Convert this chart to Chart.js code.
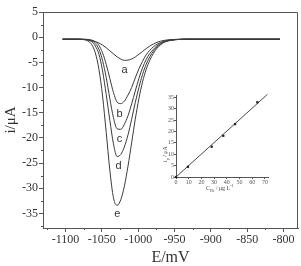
<!DOCTYPE html>
<html lang="en">
<head>
<meta charset="UTF-8">
<title>Stripping voltammograms</title>
<script src="https://cdn.jsdelivr.net/npm/chart.js"></script>
<style>
  body { margin: 0; background: #fff; }
  #wrap { position: relative; width: 301px; height: 266px; }
  #main { position: absolute; left: 0; top: 0; }
  #inset { position: absolute; left: 150px; top: 85px; }
</style>
</head>
<body>
<div id="wrap">
  <canvas id="main" width="301" height="266"></canvas>
  <canvas id="inset" width="125" height="110"></canvas>
</div>
<script>
// potential axis (mV) shared by all five scans
const potential = [-1104, -1084, -1074, -1069, -1064, -1059, -1054, -1049, -1044, -1039, -1034, -1029, -1024, -1019, -1014, -1009, -1004, -999, -994, -989, -984, -979, -974, -969, -964, -954, -944, -934, -900, -850, -805];
const curveA = [-0.4, -0.42, -0.47, -0.54, -0.66, -0.86, -1.16, -1.57, -2.1, -2.7, -3.33, -3.9, -4.35, -4.6, -4.56, -4.33, -3.93, -3.4, -2.83, -2.27, -1.76, -1.35, -1.02, -0.79, -0.63, -0.47, -0.42, -0.4, -0.4, -0.4, -0.4];
const curveB = [-0.4, -0.4, -0.42, -0.45, -0.58, -0.92, -1.63, -3.1, -5.4, -8.2, -11.0, -12.9, -13.2, -12.7, -11.5, -10.0, -8.1, -6.3, -4.8, -3.5, -2.6, -1.9, -1.4, -1.05, -0.79, -0.53, -0.44, -0.4, -0.4, -0.4, -0.4];
const curveC = [-0.4, -0.4, -0.43, -0.49, -0.73, -1.27, -2.4, -4.65, -8.0, -12.2, -16.0, -18.2, -18.3, -17.3, -15.6, -13.25, -10.7, -8.2, -6.1, -4.45, -3.25, -2.4, -1.7, -1.23, -0.89, -0.56, -0.45, -0.4, -0.4, -0.4, -0.4];
const curveD = [-0.4, -0.4, -0.45, -0.54, -0.91, -1.76, -3.4, -6.7, -11.4, -16.5, -21.2, -23.7, -23.3, -21.8, -19.4, -16.3, -13.0, -10.0, -7.4, -5.4, -3.9, -2.76, -1.97, -1.38, -0.96, -0.59, -0.45, -0.4, -0.4, -0.4, -0.4];
const curveE = [-0.4, -0.4, -0.51, -0.77, -1.48, -3.1, -6.4, -11.7, -18.9, -26.4, -31.9, -33.4, -32.3, -29.6, -25.6, -21.0, -16.3, -12.2, -8.9, -6.4, -4.6, -3.2, -2.2, -1.5, -1.0, -0.6, -0.45, -0.4, -0.4, -0.4, -0.4];

const curveNames = ['a', 'b', 'c', 'd', 'e'];
const nameE = [-1018.7, -1025.6, -1025.6, -1027, -1028.8];
const nameI = [-6.6, -15.3, -20.3, -25.6, -35.1];

const xTicks = [-1100, -1050, -1000, -950, -900, -850, -800];
const yTicks = [5, 0, -5, -10, -15, -20, -25, -30, -35];
const xMinor = [-1125, -1075, -1025, -975, -925, -875, -825];
const yMinor = [2.5, -2.5, -7.5, -12.5, -17.5, -22.5, -27.5, -32.5, -37.5];

// inset: calibration
const concPb = [0, 9.4, 28.1, 37.2, 46.5, 64.0];
const peakCurrent = [0, 4.5, 13.3, 18.1, 23.2, 32.8];
const fitConc = [0, 72];
const fitCurrent = [0, 36.3];
const insetXTicks = [0, 10, 20, 30, 40, 50, 60, 70];
const insetYTicks = [0, 5, 10, 15, 20, 25, 30, 35];

const serif = 'Liberation Serif';
const lineCol = '#3a3a3a';
const axisCol = '#555';

function pts(xs, ys) { return xs.map((x, i) => ({ x: x, y: ys[i] })); }

const curves = [curveA, curveB, curveC, curveD, curveE].map(c => ({
  data: pts(potential, c),
  borderColor: lineCol,
  borderWidth: 1,
  pointRadius: 0,
  cubicInterpolationMode: 'monotone',
  fill: false
}));

const mainExtras = {
  id: 'mainExtras',
  afterDraw(chart) {
    const { ctx, chartArea: a, scales: { x, y } } = chart;
    ctx.save();
    ctx.strokeStyle = axisCol;
    ctx.lineWidth = 1;
    ctx.beginPath();
    ctx.moveTo(a.left, a.top + 0.5);
    ctx.lineTo(a.right - 0.5, a.top + 0.5);
    ctx.lineTo(a.right - 0.5, a.bottom);
    ctx.stroke();
    ctx.beginPath();
    yMinor.forEach(v => {
      if (v < y.min || v > y.max) return;
      const py = Math.round(y.getPixelForValue(v)) + 0.5;
      ctx.moveTo(a.left - 2, py); ctx.lineTo(a.left, py);
    });
    xMinor.forEach(v => {
      if (v < x.min || v > x.max) return;
      const px = Math.round(x.getPixelForValue(v)) + 0.5;
      ctx.moveTo(px, a.bottom); ctx.lineTo(px, a.bottom + 2);
    });
    ctx.stroke();
    ctx.fillStyle = '#333';
    ctx.font = '11px "Liberation Sans"';
    ctx.textAlign = 'center';
    ctx.textBaseline = 'middle';
    curveNames.forEach((n, i) => {
      ctx.fillText(n, x.getPixelForValue(nameE[i]), y.getPixelForValue(nameI[i]));
    });
    ctx.restore();
  }
};

new Chart(document.getElementById('main'), {
  type: 'line',
  data: { datasets: curves },
  options: {
    responsive: false,
    animation: false,
    devicePixelRatio: 1,
    layout: { padding: { top: 12, right: 3, left: 0, bottom: 0 } },
    plugins: { legend: { display: false }, tooltip: { enabled: false } },
    scales: {
      x: {
        type: 'linear', min: -1131, max: -780,
        afterBuildTicks: s => { s.ticks = xTicks.map(v => ({ value: v })); },
        afterFit: s => { s.height = 38; },
        ticks: { callback: v => String(v), font: { family: serif, size: 12 }, color: '#333', padding: 1, maxRotation: 0, autoSkip: false },
        grid: { drawOnChartArea: false, tickLength: 4, color: axisCol },
        border: { color: axisCol },
        title: { display: true, text: 'E/mV', color: '#333', font: { family: serif, size: 16, lineHeight: 1 }, padding: { top: 0, bottom: 0 } }
      },
      y: {
        type: 'linear', min: -37.9, max: 5,
        afterBuildTicks: s => { s.ticks = yTicks.map(v => ({ value: v })); },
        afterFit: s => { s.width = 43; },
        ticks: { callback: v => String(v), font: { family: serif, size: 12 }, color: '#333', padding: 1, autoSkip: false },
        grid: { drawOnChartArea: false, tickLength: 4, color: axisCol },
        border: { color: axisCol },
        title: { display: true, text: 'i/μA', color: '#333', font: { family: serif, size: 15, lineHeight: 1 }, padding: { top: 4, bottom: 0 } }
      }
    }
  },
  plugins: [mainExtras]
});

const insetTitles = {
  id: 'insetTitles',
  afterDraw(chart) {
    const ctx = chart.ctx;
    ctx.save();
    ctx.fillStyle = '#444';
    ctx.textBaseline = 'alphabetic';
    // x title: C_Pb / μg L^-1
    let x0 = 56, y0 = 105;
    ctx.font = '6px "' + serif + '"';
    ctx.fillText('C', x0, y0); x0 += ctx.measureText('C').width;
    ctx.font = '4px "' + serif + '"';
    ctx.fillText('Pb', x0, y0 + 1.5); x0 += ctx.measureText('Pb').width;
    ctx.font = '6px "' + serif + '"';
    ctx.fillText(' / μg L', x0, y0); x0 += ctx.measureText(' / μg L').width;
    ctx.font = '4px "' + serif + '"';
    ctx.fillText('-1', x0, y0 - 3);
    // y title: i_p / μA (rotated)
    ctx.translate(17, 64);
    ctx.rotate(-Math.PI / 2);
    let t = -13;
    ctx.font = '6px "' + serif + '"';
    ctx.fillText('i', t, 0); t += ctx.measureText('i').width;
    ctx.font = '4px "' + serif + '"';
    ctx.fillText('p', t, 1.5); t += ctx.measureText('p').width;
    ctx.font = '6px "' + serif + '"';
    ctx.fillText(' / μA', t, 0);
    ctx.restore();
  }
};

new Chart(document.getElementById('inset'), {
  type: 'scatter',
  data: {
    datasets: [
      { data: pts(concPb, peakCurrent), pointStyle: 'rect', pointRadius: 1.6, backgroundColor: '#222', borderColor: '#222', borderWidth: 0, showLine: false, clip: false },
      { data: pts(fitConc, fitCurrent), showLine: true, borderColor: '#333', borderWidth: 0.9, pointRadius: 0, clip: false }
    ]
  },
  options: {
    responsive: false,
    animation: false,
    devicePixelRatio: 1,
    layout: { padding: { top: 10, right: 7, left: 0, bottom: 0 } },
    plugins: { legend: { display: false }, tooltip: { enabled: false } },
    scales: {
      x: {
        type: 'linear', min: 0, max: 72.4,
        afterBuildTicks: s => { s.ticks = insetXTicks.map(v => ({ value: v })); },
        afterFit: s => { s.height = 18; },
        ticks: { callback: v => String(v), font: { family: serif, size: 6 }, color: '#555', padding: 0, maxRotation: 0, autoSkip: false },
        grid: { drawOnChartArea: false, tickLength: 2, color: '#555' },
        border: { color: '#555' }
      },
      y: {
        type: 'linear', min: 0, max: 36,
        afterBuildTicks: s => { s.ticks = insetYTicks.map(v => ({ value: v })); },
        afterFit: s => { s.width = 26; },
        ticks: { callback: v => String(v), font: { family: serif, size: 6 }, color: '#555', padding: 0, autoSkip: false },
        grid: { drawOnChartArea: false, tickLength: 2, color: '#555' },
        border: { color: '#555' }
      }
    }
  },
  plugins: [insetTitles]
});
</script>
</body>
</html>
